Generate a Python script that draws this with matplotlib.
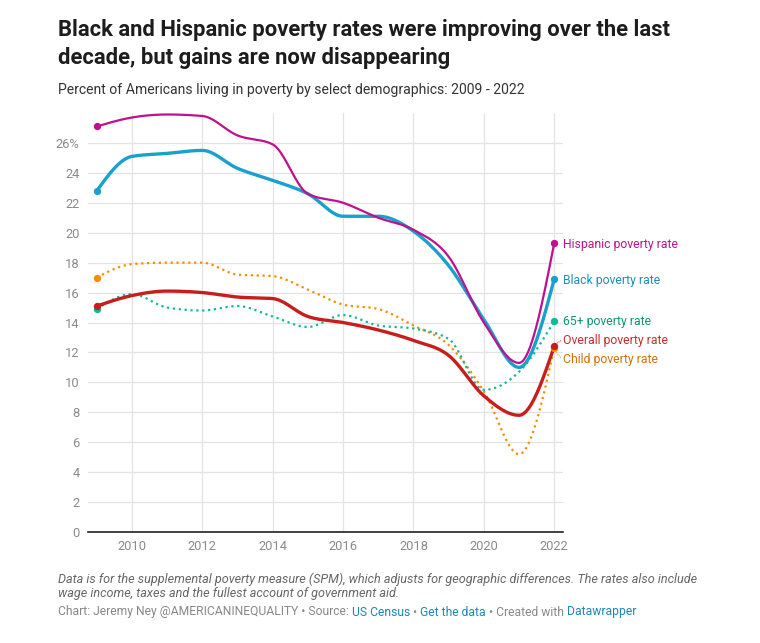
import numpy as np
import matplotlib
matplotlib.use("Agg")
import matplotlib.pyplot as plt

plt.rcParams['font.family'] = ['Roboto', 'DejaVu Sans']

years = list(range(2009, 2023))
hispanic = [27.1, 27.7, 27.9, 27.8, 26.5, 25.9, 22.6, 22.0, 21.0, 20.2, 18.4, 14.0, 11.3, 19.3]
black = [22.8, 25.1, 25.3, 25.5, 24.3, 23.5, 22.6, 21.1, 21.1, 20.1, 17.8, 14.2, 11.0, 16.9]
elderly = [14.9, 15.9, 15.0, 14.8, 15.1, 14.4, 13.7, 14.5, 13.8, 13.6, 12.9, 9.5, 10.7, 14.1]
overall = [15.1, 15.8, 16.1, 16.0, 15.7, 15.6, 14.4, 14.0, 13.5, 12.8, 11.8, 9.1, 7.8, 12.4]
child = [17.0, 17.9, 18.0, 18.0, 17.2, 17.1, 16.2, 15.2, 14.9, 13.8, 12.5, 9.4, 5.2, 12.3]

yticks = [0, 2, 4, 6, 8, 10, 12, 14, 16, 18, 20, 22, 24, 26]
xticks = [2010, 2012, 2014, 2016, 2018, 2020, 2022]


def monotone(x, y, n=40):
    # d3 curveMonotoneX style interpolation
    x = np.asarray(x, float)
    y = np.asarray(y, float)
    h = np.diff(x)
    s = np.diff(y) / h
    t = np.zeros(len(x))
    for i in range(1, len(x) - 1):
        p = (s[i - 1] * h[i] + s[i] * h[i - 1]) / (h[i - 1] + h[i])
        t[i] = (np.sign(s[i - 1]) + np.sign(s[i])) * min(abs(s[i - 1]), abs(s[i]), 0.5 * abs(p))
    t[0] = (3 * s[0] - t[1]) / 2
    t[-1] = (3 * s[-1] - t[-2]) / 2
    xs, ys = [], []
    for i in range(len(x) - 1):
        u = np.linspace(0, 1, n, endpoint=(i == len(x) - 2))
        h00 = 2 * u**3 - 3 * u**2 + 1
        h10 = u**3 - 2 * u**2 + u
        h01 = -2 * u**3 + 3 * u**2
        h11 = u**3 - u**2
        xs.append(x[i] + u * h[i])
        ys.append(h00 * y[i] + h10 * h[i] * t[i] + h01 * y[i + 1] + h11 * h[i] * t[i + 1])
    return np.concatenate(xs), np.concatenate(ys)


fig = plt.figure(figsize=(7.6, 6.43), dpi=100)
ax = fig.add_axes([88 / 760, 1 - 532 / 643, (563 - 88) / 760, (532 - 113) / 643])

series = [
    (child, '#fa8c00', 1.6, ':', 'Child poverty rate', '#d4720b'),
    (elderly, '#10b99a', 1.6, ':', '65+ poverty rate', '#10937a'),
    (overall, '#c71e1d', 2.4, '-', 'Overall poverty rate', '#cf2a2a'),
    (black, '#18a1cd', 2.4, '-', 'Black poverty rate', '#1b8fb8'),
    (hispanic, '#c0108e', 1.6, '-', 'Hispanic poverty rate', '#c0108e'),
]
label_y = {'Hispanic poverty rate': 19.2, 'Black poverty rate': 16.8, '65+ poverty rate': 14.1,
           'Overall poverty rate': 12.8, 'Child poverty rate': 11.55}

for vals, col, lw, ls, name, tcol in series:
    sx, sy = monotone(years, vals)
    ax.plot(sx, sy, color=col, lw=lw, ls=ls, solid_capstyle='round', zorder=3)
    ax.scatter([years[0], years[-1]], [vals[0], vals[-1]], color=col, s=28, zorder=4, linewidths=0)
    ax.text(2022.25, label_y[name], name, color=tcol, fontsize=8.8, va='center', ha='left', clip_on=False)

# small connectors for the two crowded labels
ax.plot([2022.03, 2022.2], [12.55, 12.8], color='#c71e1d', lw=0.7, ls=(0, (1, 1)), clip_on=False)
ax.plot([2022.03, 2022.2], [12.1, 11.6], color='#fa8c00', lw=0.7, ls=(0, (1, 1)), clip_on=False)

ax.set_xlim(2008.75, 2022.25)
ax.set_ylim(0, 28)
ax.set_yticks(yticks)
ax.set_yticklabels([str(v) if v != 26 else '26%' for v in yticks])
ax.set_xticks(xticks)
ax.grid(True, color='#e3e3e3', lw=0.9)
ax.set_axisbelow(True)
for sp in ['top', 'right', 'left']:
    ax.spines[sp].set_visible(False)
ax.spines['bottom'].set_color('#222222')
ax.spines['bottom'].set_linewidth(1.2)
ax.tick_params(axis='both', length=0, labelcolor='#8a8a8a', labelsize=9.3)
ax.tick_params(axis='y', pad=6)
ax.tick_params(axis='x', pad=6)

fig.text(58 / 760, 1 - 30 / 643, 'Black and Hispanic poverty rates were improving over the last',
         fontsize=15.8, fontweight='bold', color='#1d1d1d', va='center')
fig.text(58 / 760, 1 - 58 / 643, 'decade, but gains are now disappearing',
         fontsize=15.8, fontweight='bold', color='#1d1d1d', va='center')
fig.text(58 / 760, 1 - 90 / 643, 'Percent of Americans living in poverty by select demographics: 2009 - 2022',
         fontsize=10.1, color='#333333', va='center')

fig.text(58 / 760, 1 - 579 / 643,
         'Data is for the supplemental poverty measure (SPM), which adjusts for geographic differences. The rates also include',
         fontsize=9.1, style='italic', color='#666666', va='center')
fig.text(58 / 760, 1 - 594 / 643, 'wage income, taxes and the fullest account of government aid.',
         fontsize=9.1, style='italic', color='#666666', va='center')

pieces = [('Chart: Jeremy Ney @AMERICANINEQUALITY \u2022 Source: ', '#888888'),
          ('US Census', '#1d87b5'), (' \u2022 ', '#888888'), ('Get the data', '#1d87b5'),
          (' \u2022 Created with ', '#888888'), ('Datawrapper', '#1d87b5')]
renderer = fig.canvas.get_renderer()
xpos = 58 / 760
for txt, col in pieces:
    t = fig.text(xpos, 1 - 612 / 643, txt, fontsize=8.7, color=col, va='center')
    bb = t.get_window_extent(renderer=renderer)
    xpos += bb.width / fig.bbox.width

fig.savefig('out.png', dpi=100)
